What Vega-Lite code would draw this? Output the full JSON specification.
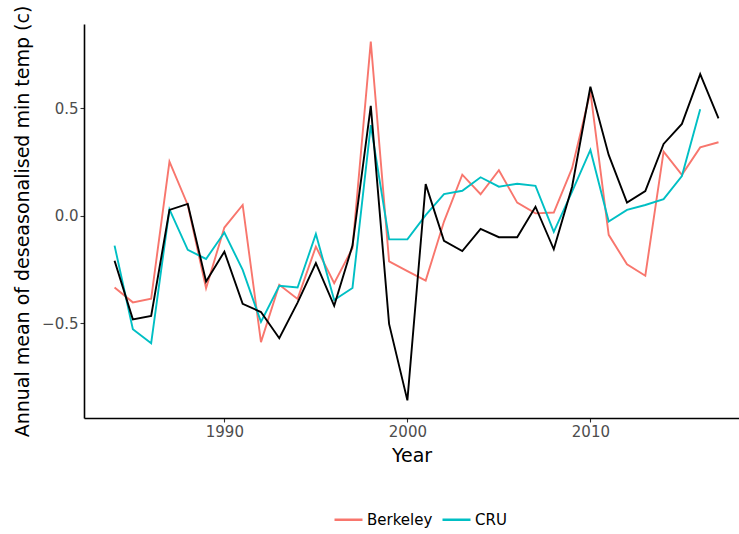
{
  "$schema": "https://vega.github.io/schema/vega-lite/v6.json",
  "width": 655,
  "height": 394,
  "autosize": "none",
  "padding": {"left": 84, "top": 24, "right": 0, "bottom": 116},
  "background": "white",
  "config": {
    "view": {"stroke": null},
    "font": "DejaVu Sans",
    "axis": {
      "grid": false,
      "domainColor": "#000000",
      "domainWidth": 1.6,
      "tickColor": "#333333",
      "tickWidth": 1.1,
      "tickSize": 4,
      "labelColor": "#4D4D4D",
      "labelFontSize": 15,
      "labelPadding": 2,
      "titleColor": "#000000",
      "titleFontSize": 19,
      "titleFontWeight": "normal"
    }
  },
  "data": {
    "values": [
      {"year": 1984, "series": "Local", "value": -0.208},
      {"year": 1985, "series": "Local", "value": -0.481},
      {"year": 1986, "series": "Local", "value": -0.465},
      {"year": 1987, "series": "Local", "value": 0.028},
      {"year": 1988, "series": "Local", "value": 0.056},
      {"year": 1989, "series": "Local", "value": -0.305},
      {"year": 1990, "series": "Local", "value": -0.166},
      {"year": 1991, "series": "Local", "value": -0.409},
      {"year": 1992, "series": "Local", "value": -0.447},
      {"year": 1993, "series": "Local", "value": -0.569},
      {"year": 1994, "series": "Local", "value": -0.403},
      {"year": 1995, "series": "Local", "value": -0.219},
      {"year": 1996, "series": "Local", "value": -0.418},
      {"year": 1997, "series": "Local", "value": -0.138},
      {"year": 1998, "series": "Local", "value": 0.512},
      {"year": 1999, "series": "Local", "value": -0.502},
      {"year": 2000, "series": "Local", "value": -0.858},
      {"year": 2001, "series": "Local", "value": 0.148},
      {"year": 2002, "series": "Local", "value": -0.116},
      {"year": 2003, "series": "Local", "value": -0.163},
      {"year": 2004, "series": "Local", "value": -0.06},
      {"year": 2005, "series": "Local", "value": -0.099},
      {"year": 2006, "series": "Local", "value": -0.099},
      {"year": 2007, "series": "Local", "value": 0.043},
      {"year": 2008, "series": "Local", "value": -0.155},
      {"year": 2009, "series": "Local", "value": 0.136},
      {"year": 2010, "series": "Local", "value": 0.601},
      {"year": 2011, "series": "Local", "value": 0.284},
      {"year": 2012, "series": "Local", "value": 0.062},
      {"year": 2013, "series": "Local", "value": 0.116},
      {"year": 2014, "series": "Local", "value": 0.335},
      {"year": 2015, "series": "Local", "value": 0.428},
      {"year": 2016, "series": "Local", "value": 0.66},
      {"year": 2017, "series": "Local", "value": 0.454},

      {"year": 1984, "series": "Berkeley", "value": -0.333},
      {"year": 1985, "series": "Berkeley", "value": -0.402},
      {"year": 1986, "series": "Berkeley", "value": -0.385},
      {"year": 1987, "series": "Berkeley", "value": 0.253},
      {"year": 1988, "series": "Berkeley", "value": 0.051},
      {"year": 1989, "series": "Berkeley", "value": -0.336},
      {"year": 1990, "series": "Berkeley", "value": -0.054},
      {"year": 1991, "series": "Berkeley", "value": 0.051},
      {"year": 1992, "series": "Berkeley", "value": -0.587},
      {"year": 1993, "series": "Berkeley", "value": -0.32},
      {"year": 1994, "series": "Berkeley", "value": -0.386},
      {"year": 1995, "series": "Berkeley", "value": -0.143},
      {"year": 1996, "series": "Berkeley", "value": -0.313},
      {"year": 1997, "series": "Berkeley", "value": -0.15},
      {"year": 1998, "series": "Berkeley", "value": 0.811},
      {"year": 1999, "series": "Berkeley", "value": -0.211},
      {"year": 2000, "series": "Berkeley", "value": -0.257},
      {"year": 2001, "series": "Berkeley", "value": -0.301},
      {"year": 2002, "series": "Berkeley", "value": -0.026},
      {"year": 2003, "series": "Berkeley", "value": 0.192},
      {"year": 2004, "series": "Berkeley", "value": 0.101},
      {"year": 2005, "series": "Berkeley", "value": 0.213},
      {"year": 2006, "series": "Berkeley", "value": 0.062},
      {"year": 2007, "series": "Berkeley", "value": 0.012},
      {"year": 2008, "series": "Berkeley", "value": 0.016},
      {"year": 2009, "series": "Berkeley", "value": 0.222},
      {"year": 2010, "series": "Berkeley", "value": 0.578},
      {"year": 2011, "series": "Berkeley", "value": -0.088},
      {"year": 2012, "series": "Berkeley", "value": -0.225},
      {"year": 2013, "series": "Berkeley", "value": -0.278},
      {"year": 2014, "series": "Berkeley", "value": 0.299},
      {"year": 2015, "series": "Berkeley", "value": 0.191},
      {"year": 2016, "series": "Berkeley", "value": 0.319},
      {"year": 2017, "series": "Berkeley", "value": 0.343},

      {"year": 1984, "series": "CRU", "value": -0.138},
      {"year": 1985, "series": "CRU", "value": -0.527},
      {"year": 1986, "series": "CRU", "value": -0.592},
      {"year": 1987, "series": "CRU", "value": 0.031},
      {"year": 1988, "series": "CRU", "value": -0.158},
      {"year": 1989, "series": "CRU", "value": -0.2},
      {"year": 1990, "series": "CRU", "value": -0.077},
      {"year": 1991, "series": "CRU", "value": -0.251},
      {"year": 1992, "series": "CRU", "value": -0.493},
      {"year": 1993, "series": "CRU", "value": -0.325},
      {"year": 1994, "series": "CRU", "value": -0.333},
      {"year": 1995, "series": "CRU", "value": -0.084},
      {"year": 1996, "series": "CRU", "value": -0.391},
      {"year": 1997, "series": "CRU", "value": -0.335},
      {"year": 1998, "series": "CRU", "value": 0.423},
      {"year": 1999, "series": "CRU", "value": -0.109},
      {"year": 2000, "series": "CRU", "value": -0.109},
      {"year": 2001, "series": "CRU", "value": 0.004},
      {"year": 2002, "series": "CRU", "value": 0.102},
      {"year": 2003, "series": "CRU", "value": 0.117},
      {"year": 2004, "series": "CRU", "value": 0.18},
      {"year": 2005, "series": "CRU", "value": 0.136},
      {"year": 2006, "series": "CRU", "value": 0.15},
      {"year": 2007, "series": "CRU", "value": 0.14},
      {"year": 2008, "series": "CRU", "value": -0.074},
      {"year": 2009, "series": "CRU", "value": 0.113},
      {"year": 2010, "series": "CRU", "value": 0.307},
      {"year": 2011, "series": "CRU", "value": -0.026},
      {"year": 2012, "series": "CRU", "value": 0.028},
      {"year": 2013, "series": "CRU", "value": 0.051},
      {"year": 2014, "series": "CRU", "value": 0.078},
      {"year": 2015, "series": "CRU", "value": 0.186},
      {"year": 2016, "series": "CRU", "value": 0.496}
    ]
  },
  "encoding": {
    "x": {
      "field": "year",
      "type": "quantitative",
      "scale": {"domain": [1982.33, 2018.12], "nice": false, "zero": false},
      "axis": {"values": [1990, 2000, 2010], "format": "d", "title": "Year", "titlePadding": 7}
    },
    "y": {
      "field": "value",
      "type": "quantitative",
      "scale": {"domain": [-0.94, 0.893], "nice": false, "zero": false},
      "axis": {"values": [-0.5, 0, 0.5], "format": ".1f", "title": "Annual mean of deseasonalised min temp (c)", "titlePadding": 9}
    }
  },
  "layer": [
    {
      "transform": [{"filter": "datum.series !== 'Local'"}],
      "mark": {"type": "line", "strokeWidth": 1.9},
      "encoding": {
        "color": {
          "field": "series",
          "type": "nominal",
          "scale": {"domain": ["Berkeley", "CRU"], "range": ["#F8766D", "#00BFC4"]},
          "legend": {
            "orient": "none",
            "legendX": 249,
            "legendY": 480,
            "direction": "horizontal",
            "title": null,
            "symbolType": "stroke",
            "symbolSize": 784,
            "symbolStrokeWidth": 2.5,
            "labelFontSize": 15,
            "labelColor": "#000000",
            "labelOffset": 3,
            "columnPadding": 4
          }
        }
      }
    },
    {
      "transform": [{"filter": "datum.series === 'Local'"}],
      "mark": {"type": "line", "strokeWidth": 1.9, "color": "#000000"}
    }
  ]
}
